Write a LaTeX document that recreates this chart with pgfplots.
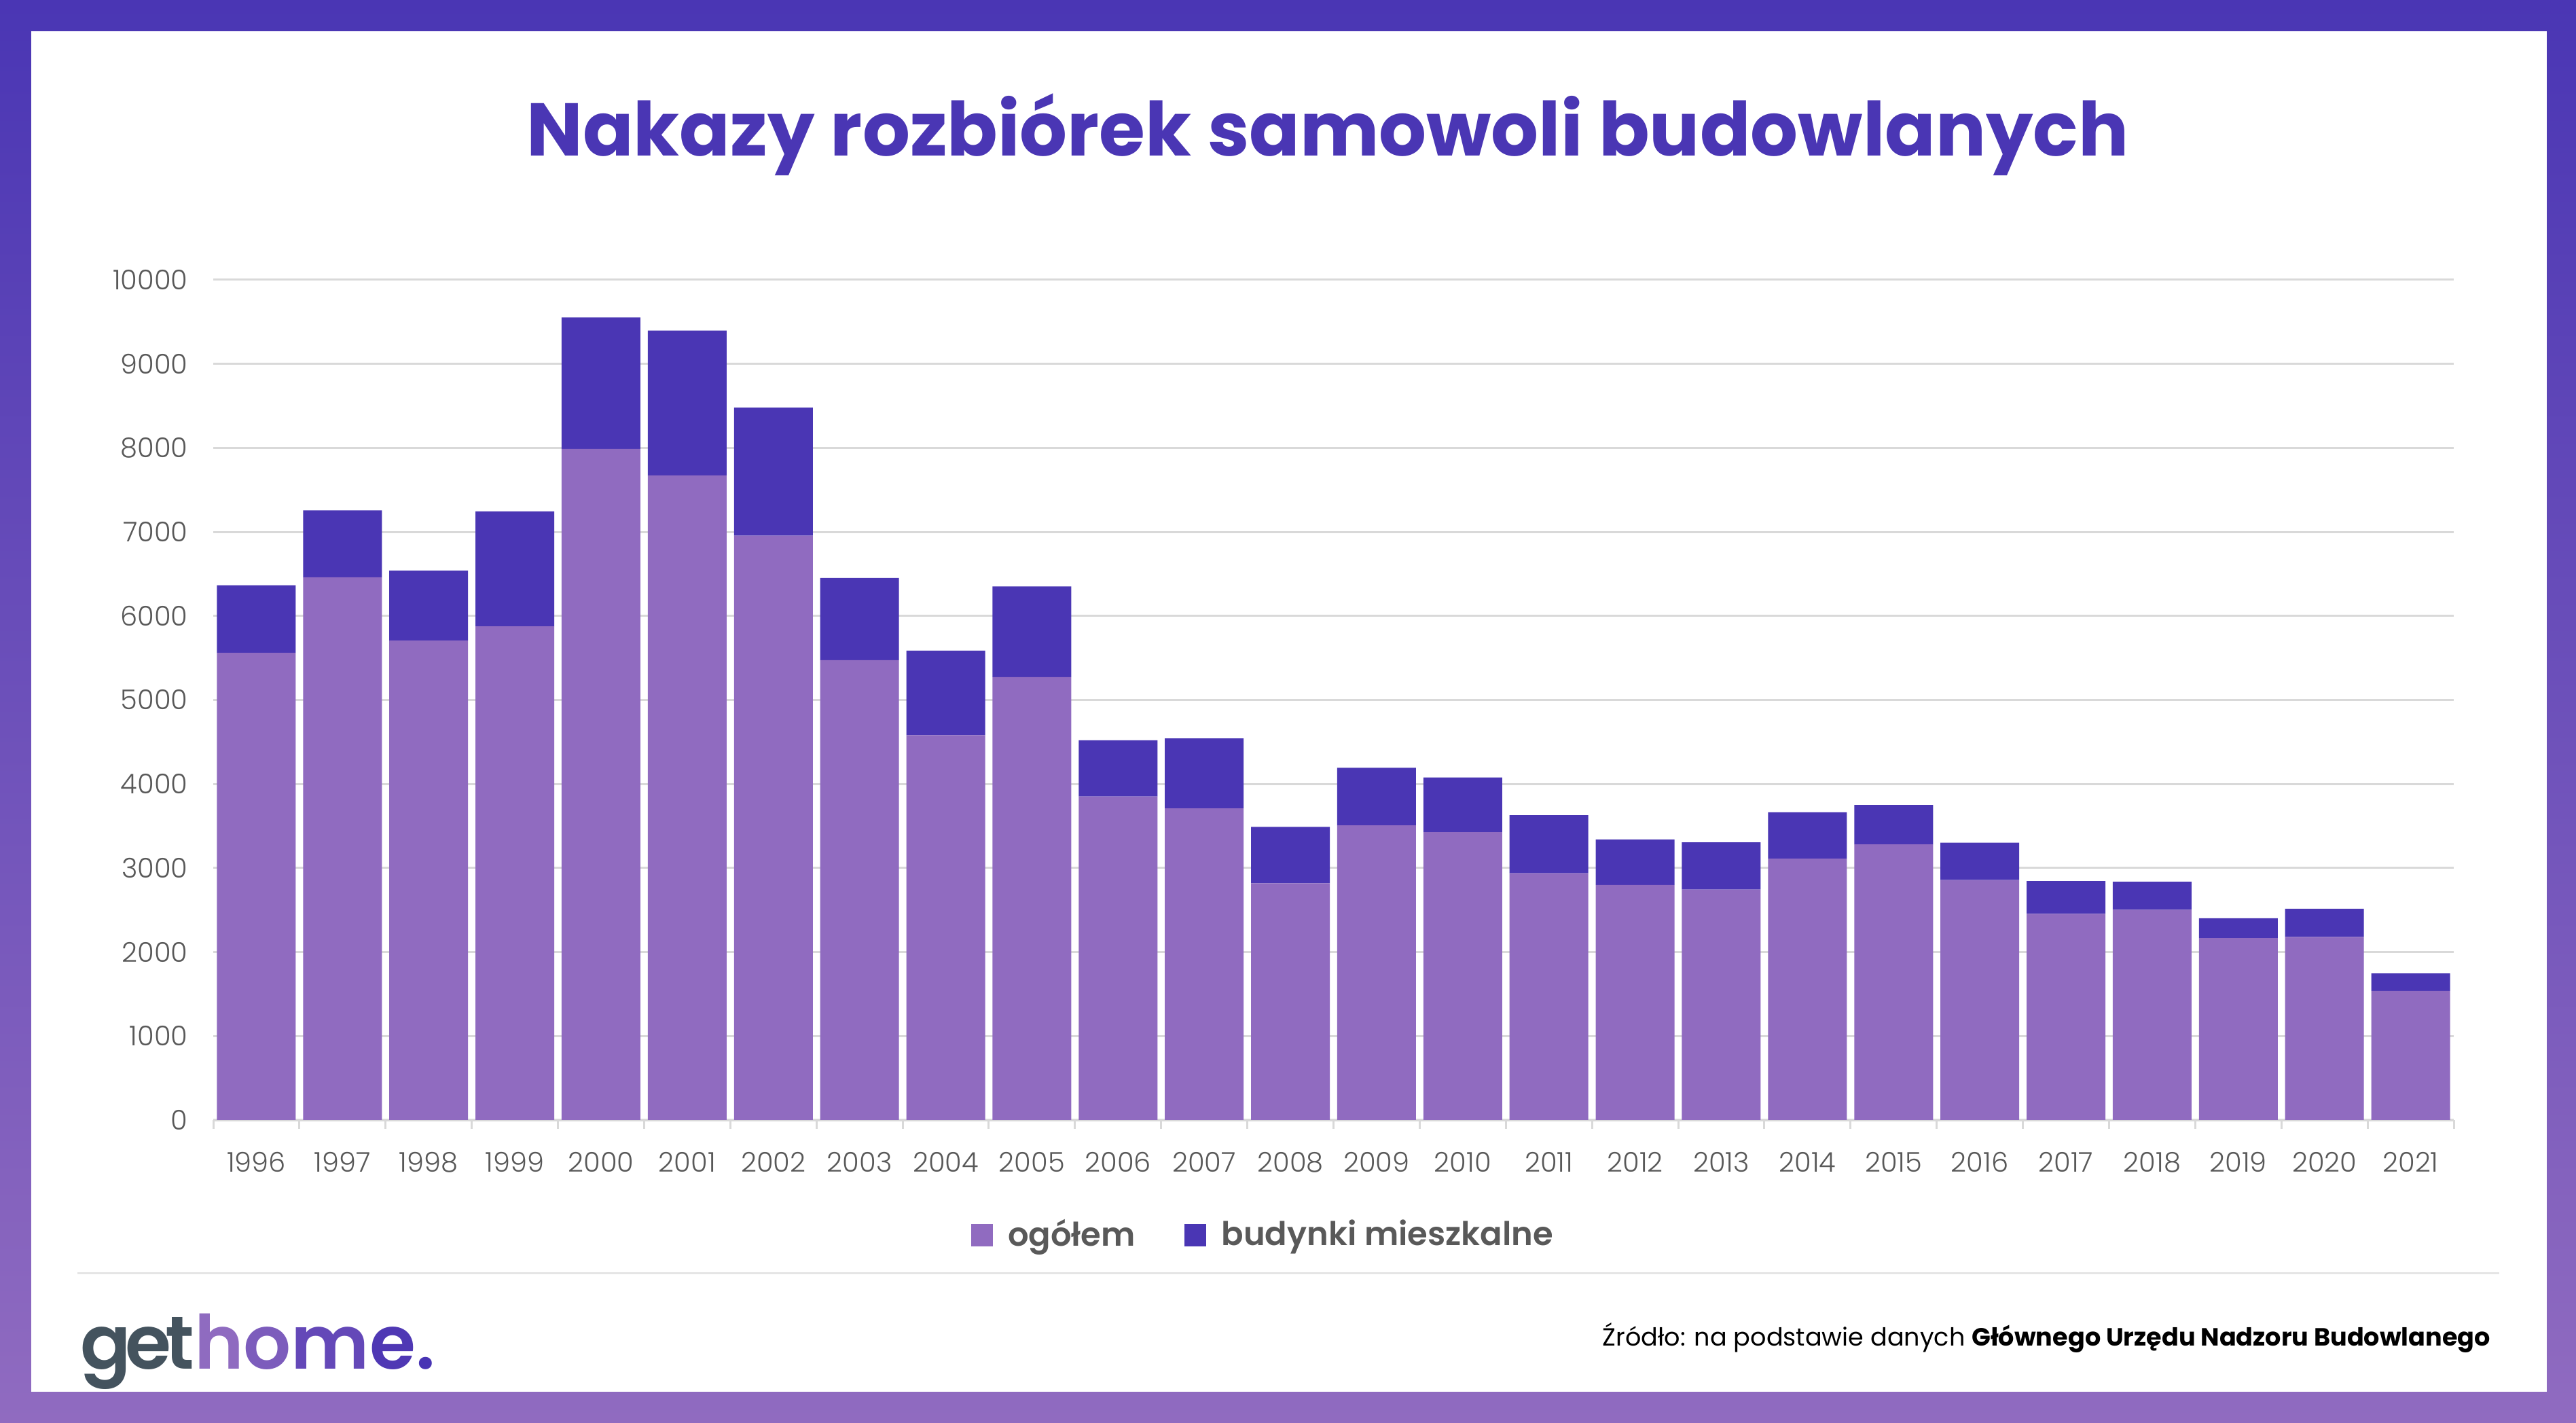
\documentclass[border=0pt]{standalone}
\usepackage{fontspec}
\setmainfont{Poppins}
\newfontfamily\poplight{Poppins Light}
\newfontfamily\popsemi{Poppins SemiBold}
\usepackage{pgfplots}
\pgfplotsset{compat=1.18}
\definecolor{dark}{HTML}{4A36B4}
\definecolor{light}{HTML}{906BC0}
\definecolor{ticktext}{HTML}{595959}
\definecolor{gridc}{HTML}{D9D9D9}
\definecolor{slate}{HTML}{44535E}

\begin{document}
\begin{tikzpicture}
% frame
\shade[top color=dark, bottom color=light] (0,0) rectangle (758.6pt,419pt);
\fill[white] (9.2pt,9.2pt) rectangle (750pt,409.8pt);

\node[anchor=base, text=dark, font=\bfseries\fontsize{22}{26}\selectfont] at (391pt,373pt)
  {Nakazy rozbiórek samowoli budowlanych};

\begin{axis}[
  at={(62.8pt,89.2pt)}, anchor=south west,
  scale only axis, width=659.8pt, height=247.4pt,
  ybar stacked, bar width=23.2pt,
  xmin=-0.5, xmax=25.5, ymin=0, ymax=10000,
  axis x line*=bottom, axis y line*=left,
  x axis line style={draw=gridc, line width=0.7pt},
  y axis line style={draw=none},
  xtick={0,...,25},
  xticklabels={1996,1997,1998,1999,2000,2001,2002,2003,2004,2005,2006,2007,2008,2009,2010,2011,2012,2013,2014,2015,2016,2017,2018,2019,2020,2021},
  minor xtick={-0.5,0.5,...,25.5},
  major tick length=0pt, minor tick length=2.6pt,
  tick align=outside,
  minor tick style={draw=gridc, line width=0.6pt},
  ytick={0,1000,...,10000},
  scaled y ticks=false,
  ymajorgrids, grid style={draw=gridc, line width=0.6pt},
  /pgf/number format/assume math mode=true,
  /pgf/number format/set thousands separator={},
  yticklabel style={font=\poplight\fontsize{8}{10}\selectfont, text=ticktext, xshift=-4pt},
  xticklabel style={font=\poplight\fontsize{8}{10}\selectfont, text=ticktext, yshift=-6pt},
  legend style={draw=none, fill=none, at={(axis description cs:0.4715,-0.137)}, anchor=center,
    legend columns=2, font=\popsemi\fontsize{9.6}{12}\selectfont, text=ticktext,
    nodes={inner xsep=4.5pt},
    /tikz/every even column/.append style={column sep=10pt}},
  legend cell align=left,
]
\addplot[fill=light, draw=none,
  legend image code/.code={\fill[light] (0pt,-3.3pt) rectangle (6.4pt,3.3pt);}]
  coordinates {
(0,5560) (1,6459) (2,5708) (3,5875) (4,7988) (5,7673) (6,6955) (7,5473) (8,4581)
(9,5272) (10,3850) (11,3709) (12,2817) (13,3508) (14,3427) (15,2938) (16,2797)
(17,2743) (18,3112) (19,3280) (20,2857) (21,2455) (22,2502) (23,2166) (24,2180) (25,1536)
};
\addlegendentry{ogółem}
\addplot[fill=dark, draw=none,
  legend image code/.code={\fill[dark] (0pt,-3.3pt) rectangle (6.4pt,3.3pt);}]
  coordinates {
(0,805) (1,798) (2,831) (3,1368) (4,1563) (5,1723) (6,1523) (7,979) (8,1006)
(9,1079) (10,670) (11,832) (12,671) (13,684) (14,651) (15,690) (16,543)
(17,563) (18,550) (19,469) (20,443) (21,389) (22,335) (23,235) (24,335) (25,208)
};
\addlegendentry{budynki mieszkalne}
\end{axis}

\draw[draw=black!10, line width=0.6pt] (22.8pt,44pt) -- (736pt,44pt);

\node[anchor=base west, inner sep=0pt, font=\popsemi\fontsize{22}{26}\selectfont\addfontfeatures{LetterSpace=-8}] at (23.5pt,15.8pt)
  {\textcolor{slate}{get}\textcolor[HTML]{8F6BC0}{h}\textcolor[HTML]{7C5CBC}{o}\textcolor[HTML]{6448B8}{m}\textcolor[HTML]{4F38B4}{e}\textcolor[HTML]{4834B4}{.}};

\node[anchor=base east, inner sep=0pt, font=\fontsize{7.32}{9}\selectfont] at (733.6pt,22.6pt)
  {Źródło: na podstawie danych \textbf{Głównego Urzędu Nadzoru Budowlanego}};

\pgfresetboundingbox
\path (0,0) rectangle (758.6pt,419pt);
\end{tikzpicture}
\end{document}
